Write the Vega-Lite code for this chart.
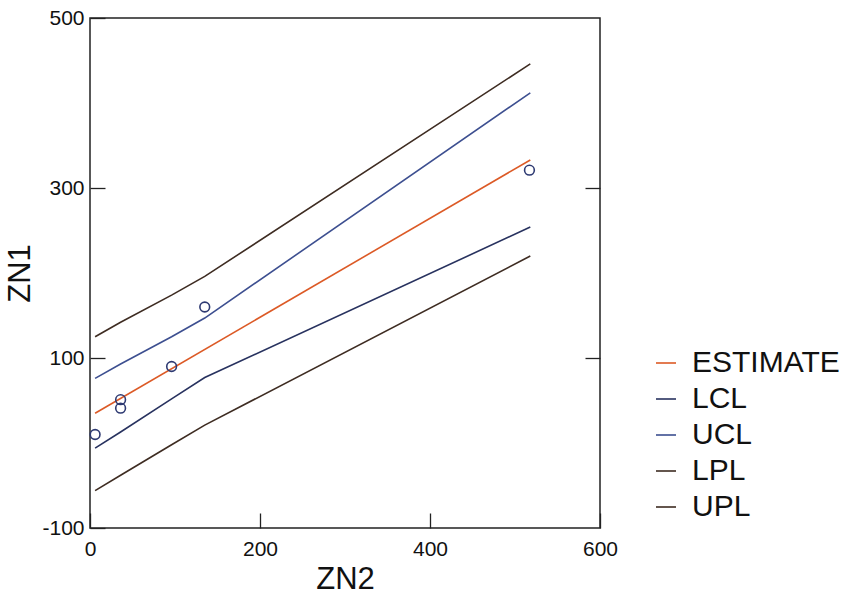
{
  "$schema": "https://vega.github.io/schema/vega-lite/v6.json",
  "autosize": {"type": "none"},
  "padding": {"left": 90, "top": 18, "right": 248, "bottom": 71},
  "width": 510,
  "height": 510,
  "background": "white",
  "config": {
    "view": {"stroke": "#222", "strokeWidth": 1.5},
    "font": "Liberation Sans",
    "axis": {"grid": false, "domain": false, "labelFlush": false, "labelOverlap": false, "labelFont": "Liberation Sans", "titleFont": "Liberation Sans", "labelColor": "#111", "titleColor": "#111", "titleFontWeight": "normal", "tickColor": "#222", "tickWidth": 1.3}
  },
  "datasets": {
    "curves": [
      {"ZN2": 6, "ZN1": 35, "series": "ESTIMATE"},
      {"ZN2": 518, "ZN1": 333, "series": "ESTIMATE"},
      {"ZN2": 6, "ZN1": -6, "series": "LCL"},
      {"ZN2": 36, "ZN1": 13, "series": "LCL"},
      {"ZN2": 96, "ZN1": 52, "series": "LCL"},
      {"ZN2": 135, "ZN1": 77, "series": "LCL"},
      {"ZN2": 518, "ZN1": 254, "series": "LCL"},
      {"ZN2": 6, "ZN1": 76, "series": "UCL"},
      {"ZN2": 36, "ZN1": 93, "series": "UCL"},
      {"ZN2": 96, "ZN1": 125, "series": "UCL"},
      {"ZN2": 135, "ZN1": 147, "series": "UCL"},
      {"ZN2": 518, "ZN1": 412, "series": "UCL"},
      {"ZN2": 6, "ZN1": -56, "series": "LPL"},
      {"ZN2": 36, "ZN1": -38, "series": "LPL"},
      {"ZN2": 96, "ZN1": -2, "series": "LPL"},
      {"ZN2": 135, "ZN1": 21, "series": "LPL"},
      {"ZN2": 518, "ZN1": 220, "series": "LPL"},
      {"ZN2": 6, "ZN1": 125, "series": "UPL"},
      {"ZN2": 36, "ZN1": 142, "series": "UPL"},
      {"ZN2": 96, "ZN1": 174, "series": "UPL"},
      {"ZN2": 135, "ZN1": 196, "series": "UPL"},
      {"ZN2": 518, "ZN1": 446, "series": "UPL"}
    ],
    "obs": [
      {"ZN2": 6, "ZN1": 10},
      {"ZN2": 36, "ZN1": 51},
      {"ZN2": 36, "ZN1": 41},
      {"ZN2": 96, "ZN1": 90},
      {"ZN2": 135, "ZN1": 160},
      {"ZN2": 517, "ZN1": 321}
    ]
  },
  "encoding": {
    "x": {"field": "ZN2", "type": "quantitative", "scale": {"domain": [0, 600], "nice": false, "zero": false},
          "axis": {"orient": "bottom", "values": [0, 200, 400, 600], "title": "ZN2", "labelFontSize": 21, "titleFontSize": 31, "tickSize": 15, "offset": -15, "labelPadding": 10, "titlePadding": 5, "labelFlush": false, "labelExpr": "'' + datum.value"}}
  },
  "layer": [
    {
      "data": {"name": "curves"},
      "mark": {"type": "line", "strokeWidth": 1.6},
      "encoding": {
        "y": {"field": "ZN1", "type": "quantitative", "scale": {"domain": [-100, 500], "nice": false, "zero": false},
              "axis": {"orient": "left", "values": [-100, 100, 300, 500], "title": "ZN1", "labelFontSize": 21, "titleFontSize": 31, "tickSize": 15, "offset": -15, "labelPadding": 6, "titlePadding": 5, "labelFlush": false, "labelExpr": "'' + datum.value"}},
        "color": {"field": "series", "type": "nominal",
                  "scale": {"domain": ["ESTIMATE", "LCL", "UCL", "LPL", "UPL"], "range": ["#dc5a26", "#28325f", "#3d4f90", "#3e2c22", "#3e2c22"]},
                  "legend": {"title": null, "orient": "none", "legendX": 561, "legendY": 330, "symbolType": "stroke", "symbolSize": 400, "symbolStrokeWidth": 1.6, "labelFontSize": 30, "labelFont": "Liberation Sans", "labelColor": "#111", "rowPadding": 6, "labelOffset": 11}},
        "detail": {"field": "series"}
      }
    },
    {
      "data": {"name": "obs"},
      "mark": {"type": "point", "shape": "circle", "filled": false, "size": 95, "strokeWidth": 1.6, "color": "#2e3a72", "opacity": 1},
      "encoding": {
        "y": {"field": "ZN1", "type": "quantitative",
              "axis": {"orient": "right", "values": [100, 300], "labels": false, "title": null, "tickSize": 15, "offset": -15}}
      }
    }
  ]
}
